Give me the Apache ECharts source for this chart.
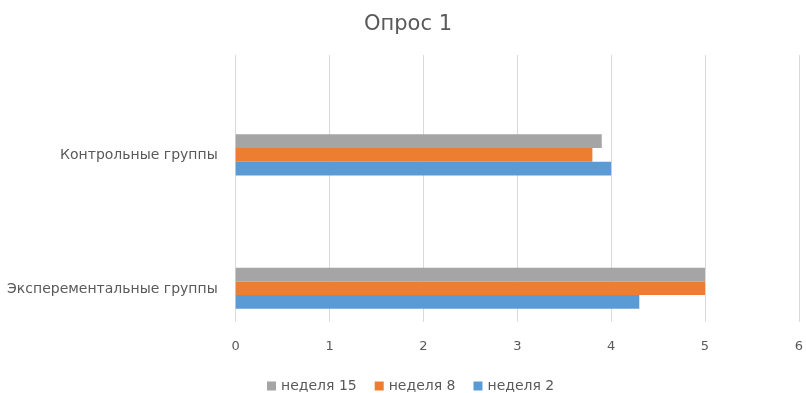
<!DOCTYPE html>
<html><head><meta charset="utf-8">
<script src="https://cdn.jsdelivr.net/npm/echarts@6/dist/echarts.min.js"></script>
<style>html,body{margin:0;padding:0;background:#fff}#c{width:806px;height:393px}</style>
</head><body><div id="c"></div>
<script>
const categories = ['Эксперементальные группы', 'Контрольные группы'];
const week2 = [4.3, 4.0];
const week8 = [5.0, 3.8];
const week15 = [5.0, 3.9];
const xTicks = [0, 1, 2, 3, 4, 5, 6];
const seriesNames = ['неделя 2', 'неделя 8', 'неделя 15'];

const FONT = 'DejaVu Sans';
const chart = echarts.init(document.getElementById('c'));
const bw = 13.7;
const shift = 34;
chart.setOption({
  animation: false,
  title: { text: 'Опрос 1', left: 359, top: 9, textStyle: { fontFamily: FONT, fontSize: 21, fontWeight: 'normal', color: '#595959' } },
  legend: {
    data: [seriesNames[2], seriesNames[1], seriesNames[0]],
    top: 374, left: 262, icon: 'rect', itemWidth: 9, itemHeight: 9, itemGap: 18, itemTextGap: 5,
    textStyle: { fontFamily: FONT, fontSize: 14, color: '#595959' }
  },
  grid: [
    { left: 235.7, right: 5.7, top: 55, bottom: 71.3 },
    { left: 235.7, right: 5.7, top: 55 + shift, bottom: 71.3 - shift }
  ],
  xAxis: [{
    type: 'value', min: xTicks[0], max: xTicks[xTicks.length - 1], interval: 1,
    axisLine: { show: false }, axisTick: { show: false },
    splitLine: { lineStyle: { color: '#d9d9d9', width: 1 } },
    axisLabel: { margin: 18, fontFamily: FONT, fontSize: 13, color: '#595959' }
  }, {
    type: 'value', gridIndex: 1, min: xTicks[0], max: xTicks[xTicks.length - 1], show: false
  }],
  yAxis: [{
    type: 'category', data: categories,
    axisLine: { show: false }, axisTick: { show: false }, axisLabel: { show: false }
  }, {
    type: 'category', data: categories, gridIndex: 1,
    axisLine: { show: false }, axisTick: { show: false }, splitLine: { show: false },
    axisLabel: { margin: 18, fontFamily: FONT, fontSize: 14, color: '#595959' }
  }],
  series: [
    { name: 'spacer', type: 'bar', data: [null, null], barWidth: 66.4, barGap: 0, silent: true, itemStyle: { color: 'transparent' } },
    { name: seriesNames[2], type: 'bar', data: week15, barWidth: bw, barGap: 0, itemStyle: { color: '#a5a5a5' } },
    { name: seriesNames[1], type: 'bar', data: week8, barWidth: bw, barGap: 0, itemStyle: { color: '#ed7d31' } },
    { name: seriesNames[0], type: 'bar', data: week2, barWidth: bw, barGap: 0, itemStyle: { color: '#5b9bd5' } }
  ]
});
</script></body></html>
